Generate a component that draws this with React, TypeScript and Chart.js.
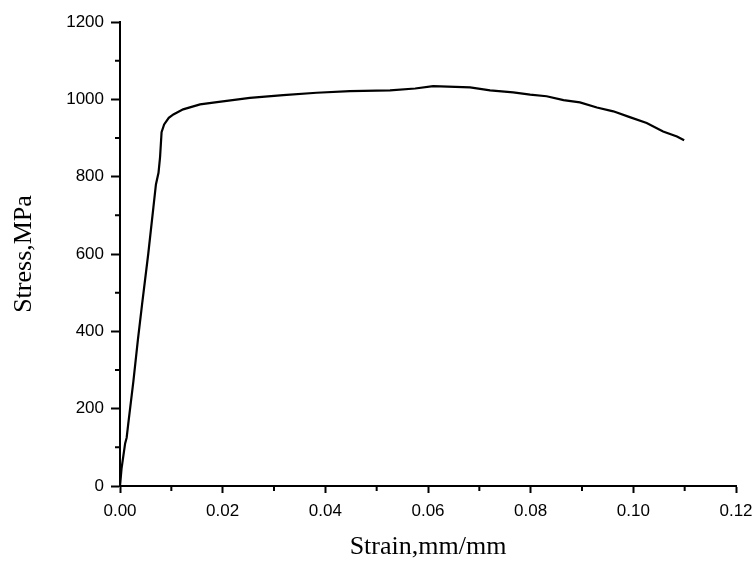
import React, { useEffect, useRef } from "react";
import { Chart, registerables } from "chart.js";

Chart.register(...registerables);

const strain = [
  0, 0.0003, 0.001, 0.0013, 0.0016, 0.0026, 0.0035, 0.0043, 0.0055, 0.0065, 0.007,
  0.0075, 0.0078, 0.0081, 0.0086, 0.0095, 0.0104, 0.0123, 0.0156, 0.0189, 0.0253,
  0.0318, 0.0383, 0.0448, 0.0526, 0.0575, 0.061, 0.0682, 0.0721, 0.0766, 0.0799,
  0.0831, 0.0864, 0.0896, 0.0929, 0.0961, 0.0993, 0.1026, 0.1058, 0.1085, 0.1099,
];
const stress = [
  0, 45, 110, 125, 160, 270, 380, 470, 600, 720, 780, 810, 850, 915, 935, 952, 961,
  974, 987, 993, 1004, 1011, 1017, 1021, 1023, 1028, 1034, 1031, 1023, 1018, 1012,
  1008, 998, 992, 979, 969, 954, 939, 917, 904, 894,
];
const xMinorTicks = [0.01, 0.03, 0.05, 0.07, 0.09, 0.11];
const yMinorTicks = [100, 300, 500, 700, 900, 1100];
const xTitle = "Strain,mm/mm";
const yTitle = "Stress,MPa";

const minorTickPlugin = {
  id: "minorTicks",
  afterDraw(chart: any) {
    const { ctx, chartArea, scales } = chart;
    ctx.save();
    ctx.strokeStyle = "#000";
    ctx.lineWidth = 2;
    ctx.beginPath();
    xMinorTicks.forEach((v) => {
      const px = scales.x.getPixelForValue(v);
      ctx.moveTo(px, chartArea.bottom);
      ctx.lineTo(px, chartArea.bottom + 5);
    });
    yMinorTicks.forEach((v) => {
      const py = scales.y.getPixelForValue(v);
      ctx.moveTo(chartArea.left, py);
      ctx.lineTo(chartArea.left - 5, py);
    });
    ctx.stroke();
    ctx.restore();
  },
};

export default function App() {
  const ref = useRef<HTMLCanvasElement | null>(null);
  useEffect(() => {
    if (!ref.current) return;
    const data = strain.map((x, i) => ({ x, y: stress[i] }));
    const chart = new Chart(ref.current, {
      type: "scatter",
      data: {
        datasets: [
          {
            data,
            showLine: true,
            borderColor: "#000",
            borderWidth: 2.2,
            pointRadius: 0,
            tension: 0,
          },
        ],
      },
      options: {
        responsive: false,
        animation: false,
        layout: { padding: { top: 22, right: 20, left: 0, bottom: 0 } },
        plugins: { legend: { display: false }, tooltip: { enabled: false } },
        scales: {
          x: {
            type: "linear",
            min: 0,
            max: 0.12,
            border: { display: true, color: "#000", width: 2 },
            grid: {
              drawOnChartArea: false,
              drawTicks: true,
              tickLength: 7,
              tickColor: "#000",
              tickWidth: 2,
            },
            ticks: {
              stepSize: 0.02,
              color: "#000",
              padding: 8,
              maxRotation: 0,
              font: { family: "'Liberation Sans', Arial, sans-serif", size: 17 },
              callback: (v: any) => Number(v).toFixed(2),
            },
            title: {
              display: true,
              text: xTitle,
              color: "#000",
              font: { family: "'Liberation Serif', 'Times New Roman', serif", size: 26 },
              padding: { top: 0, bottom: 0 },
            },
            afterFit: (s: any) => {
              s.height = 77;
              s.paddingRight = 0;
              s.paddingLeft = 0;
            },
          },
          y: {
            type: "linear",
            min: 0,
            max: 1200,
            border: { display: true, color: "#000", width: 2 },
            grid: {
              drawOnChartArea: false,
              drawTicks: true,
              tickLength: 9,
              tickColor: "#000",
              tickWidth: 2,
            },
            ticks: {
              stepSize: 200,
              color: "#000",
              padding: 7,
              font: { family: "'Liberation Sans', Arial, sans-serif", size: 17 },
              callback: (v: any) => String(v),
            },
            title: {
              display: true,
              text: yTitle,
              color: "#000",
              font: { family: "'Liberation Serif', 'Times New Roman', serif", size: 26 },
              padding: { top: 9, bottom: 0 },
            },
            afterFit: (s: any) => {
              s.width = 120;
            },
          },
        },
      },
      plugins: [minorTickPlugin],
    });
    return () => chart.destroy();
  }, []);
  return (
    <div style={{ position: "absolute", left: 0, top: 0, width: 756, height: 563, background: "#fff" }}>
      <canvas ref={ref} width={756} height={563} />
    </div>
  );
}
